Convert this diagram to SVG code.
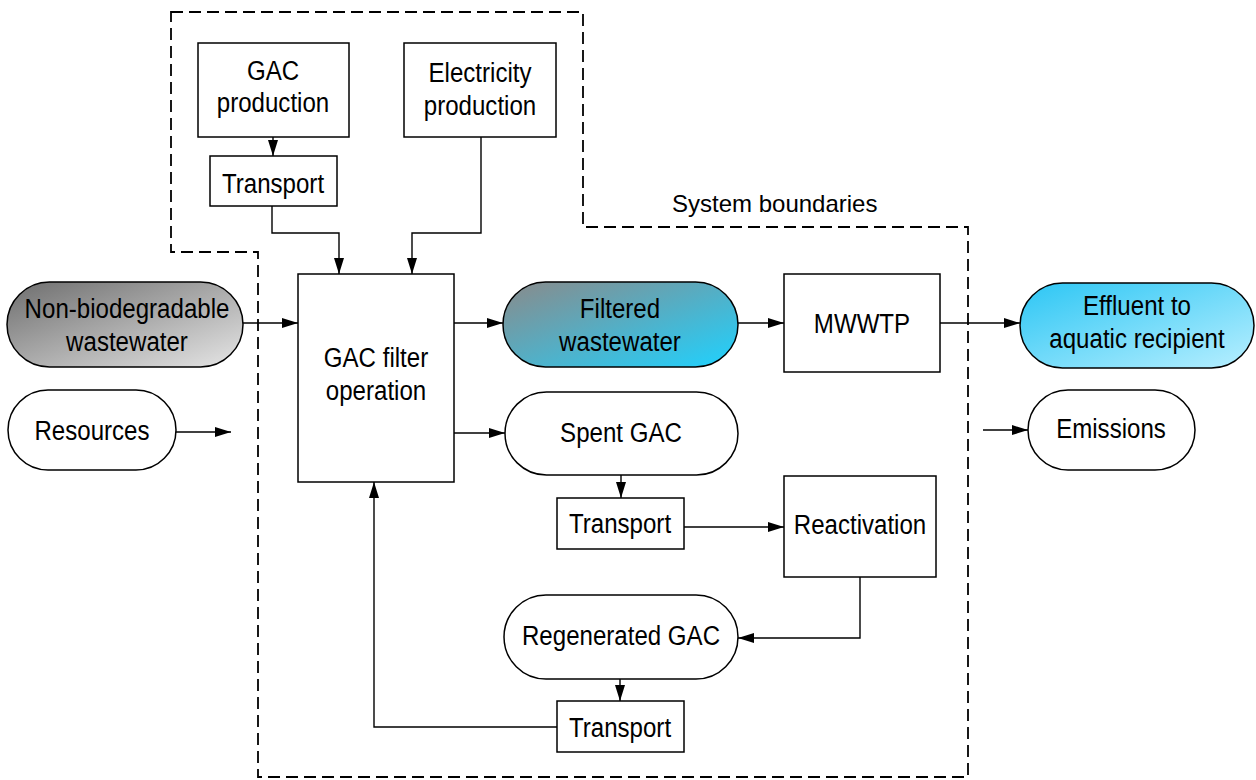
<svg xmlns="http://www.w3.org/2000/svg" width="1256" height="780" viewBox="0 0 1256 780">
<style>
.box{fill:#fff;stroke:#000;stroke-width:1.5}
.pill{stroke:#000;stroke-width:1.5}
.ln{fill:none;stroke:#000;stroke-width:1.4}
.t{font-family:"Liberation Sans",Arial,sans-serif;font-size:28px;text-anchor:middle;fill:#000}
.sb{font-family:"Liberation Sans",Arial,sans-serif;font-size:24px;fill:#000}
.dash{fill:none;stroke:#000;stroke-width:1.8;stroke-dasharray:12 6}
</style>
<defs>
<marker id="ah" markerUnits="userSpaceOnUse" markerWidth="16" markerHeight="10" refX="16" refY="5" orient="auto">
<path d="M0,0 L16,5 L0,10 Z" fill="#000"/>
</marker>
<linearGradient id="gGrey" x1="0" y1="0" x2="1" y2="1">
<stop offset="0" stop-color="#6e6e6e"/>
<stop offset="1" stop-color="#e6e6e6"/>
</linearGradient>
<linearGradient id="gFilt" x1="0" y1="0" x2="1" y2="1">
<stop offset="0" stop-color="#8a8a8a"/>
<stop offset="1" stop-color="#1fd2ff"/>
</linearGradient>
<linearGradient id="gEff" x1="0" y1="0" x2="1" y2="1">
<stop offset="0" stop-color="#2cc6f4"/>
<stop offset="1" stop-color="#b8efff"/>
</linearGradient>
</defs>
<rect width="1256" height="780" fill="#fff"/>

<g id="boundary">
<path class="dash" d="M171,12 H583 V227 H968 V777 H258 V252 H171 Z"/>
<text class="sb" x="672" y="212">System boundaries</text>
</g>

<g id="connectors">
<path class="ln" marker-end="url(#ah)" d="M273,137 V156"/>
<path class="ln" marker-end="url(#ah)" d="M272,206 V233 H339 V274"/>
<path class="ln" marker-end="url(#ah)" d="M481,137 V233 H412 V274"/>
<path class="ln" marker-end="url(#ah)" d="M243,323 H298"/>
<path class="ln" marker-end="url(#ah)" d="M454,323 H503"/>
<path class="ln" marker-end="url(#ah)" d="M738,323 H784"/>
<path class="ln" marker-end="url(#ah)" d="M940,323 H1020"/>
<path class="ln" marker-end="url(#ah)" d="M176,432 H231"/>
<path class="ln" marker-end="url(#ah)" d="M454,433 H505"/>
<path class="ln" marker-end="url(#ah)" d="M983,430 H1028"/>
<path class="ln" marker-end="url(#ah)" d="M621,475 V498"/>
<path class="ln" marker-end="url(#ah)" d="M684,527 H784"/>
<path class="ln" marker-end="url(#ah)" d="M860,577 V638 H738"/>
<path class="ln" marker-end="url(#ah)" d="M620,679 V701"/>
<path class="ln" marker-end="url(#ah)" d="M557,727 H374 V482"/>
</g>

<g id="gac-production">
<rect class="box" x="198" y="43" width="151" height="94"/>
<text class="t" transform="translate(273,80) scale(0.86,1)">GAC</text>
<text class="t" transform="translate(273,112) scale(0.86,1)">production</text>
</g>
<g id="electricity-production">
<rect class="box" x="404" y="43" width="152" height="94"/>
<text class="t" transform="translate(480,82) scale(0.86,1)">Electricity</text>
<text class="t" transform="translate(480,115) scale(0.86,1)">production</text>
</g>
<g id="transport-gac">
<rect class="box" x="210" y="156" width="127" height="50"/>
<text class="t" transform="translate(273,193) scale(0.86,1)">Transport</text>
</g>
<g id="gac-filter">
<rect class="box" x="298" y="274" width="156" height="208"/>
<text class="t" transform="translate(376,367) scale(0.86,1)">GAC filter</text>
<text class="t" transform="translate(376,400) scale(0.86,1)">operation</text>
</g>
<g id="non-bio">
<rect class="pill" x="7" y="282" width="236" height="85" rx="42.5" fill="url(#gGrey)"/>
<text class="t" transform="translate(127,318) scale(0.86,1)">Non-biodegradable</text>
<text class="t" transform="translate(127,351) scale(0.86,1)">wastewater</text>
</g>
<g id="filtered">
<rect class="pill" x="503" y="282" width="235" height="85" rx="42.5" fill="url(#gFilt)"/>
<text class="t" transform="translate(620,318) scale(0.86,1)">Filtered</text>
<text class="t" transform="translate(620,351) scale(0.86,1)">wastewater</text>
</g>
<g id="mwwtp">
<rect class="box" x="784" y="274" width="156" height="98"/>
<text class="t" transform="translate(862,333) scale(0.86,1)">MWWTP</text>
</g>
<g id="effluent">
<rect class="pill" x="1020" y="283" width="234" height="85" rx="42.5" fill="url(#gEff)"/>
<text class="t" transform="translate(1137,315) scale(0.86,1)">Effluent to</text>
<text class="t" transform="translate(1137,348) scale(0.86,1)">aquatic recipient</text>
</g>
<g id="resources">
<rect class="pill" x="8" y="390" width="168" height="80" rx="40" fill="#fff"/>
<text class="t" transform="translate(92,440) scale(0.86,1)">Resources</text>
</g>
<g id="spent-gac">
<rect class="pill" x="505" y="392" width="233" height="83" rx="41.5" fill="#fff"/>
<text class="t" transform="translate(621,442) scale(0.86,1)">Spent GAC</text>
</g>
<g id="emissions">
<rect class="pill" x="1028" y="390" width="167" height="80" rx="40" fill="#fff"/>
<text class="t" transform="translate(1111,438) scale(0.86,1)">Emissions</text>
</g>
<g id="transport-spent">
<rect class="box" x="557" y="498" width="127" height="51"/>
<text class="t" transform="translate(620,533) scale(0.86,1)">Transport</text>
</g>
<g id="reactivation">
<rect class="box" x="784" y="476" width="152" height="101"/>
<text class="t" transform="translate(860,534) scale(0.86,1)">Reactivation</text>
</g>
<g id="regenerated-gac">
<rect class="pill" x="504" y="595" width="234" height="84" rx="42" fill="#fff"/>
<text class="t" transform="translate(621,645) scale(0.86,1)">Regenerated GAC</text>
</g>
<g id="transport-regen">
<rect class="box" x="557" y="701" width="127" height="51"/>
<text class="t" transform="translate(620,737) scale(0.86,1)">Transport</text>
</g>
</svg>
